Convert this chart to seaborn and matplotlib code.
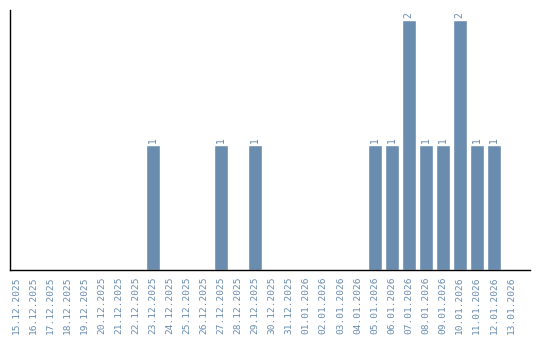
import matplotlib
matplotlib.use("Agg")
import matplotlib.pyplot as plt
import seaborn as sns
import pandas as pd

dates = ["15.12.2025", "16.12.2025", "17.12.2025", "18.12.2025", "19.12.2025",
         "20.12.2025", "21.12.2025", "22.12.2025", "23.12.2025", "24.12.2025",
         "25.12.2025", "26.12.2025", "27.12.2025", "28.12.2025", "29.12.2025",
         "30.12.2025", "31.12.2025", "01.01.2026", "02.01.2026", "03.01.2026",
         "04.01.2026", "05.01.2026", "06.01.2026", "07.01.2026", "08.01.2026",
         "09.01.2026", "10.01.2026", "11.01.2026", "12.01.2026", "13.01.2026"]
counts = [0, 0, 0, 0, 0, 0, 0, 0, 1, 0, 0, 0, 1, 0, 1,
          0, 0, 0, 0, 0, 0, 1, 1, 2, 1, 1, 2, 1, 1, 0]

sns.set_style("white")
plt.rcParams['font.family'] = ['DejaVu Sans Mono', 'DejaVu Sans']

color = "#6a8caf"
df = pd.DataFrame({"date": dates, "count": counts})

fig = plt.figure(figsize=(5.4, 3.4), dpi=100)
ax = fig.add_axes([10/540, 70/340, 520/540, 260/340])
sns.barplot(data=df, x="date", y="count", color=color, saturation=1, width=0.82, ax=ax)

ax.set_ylim(0, 2.08)
ax.set_xlim(-0.38, 30.12)
ax.set_xlabel("")
ax.set_ylabel("")
ax.set_yticks([])
ax.tick_params(axis="x", length=0, pad=5, labelsize=6.8, labelcolor=color, rotation=90)
for lbl in ax.get_xticklabels():
    lbl.set_verticalalignment("top")

for i, v in enumerate(counts):
    if v > 0:
        ax.text(i, v + 0.015, str(v), rotation=90, ha="center", va="bottom",
                fontsize=7, color=color)

for s in ["top", "right"]:
    ax.spines[s].set_visible(False)
for s in ["left", "bottom"]:
    ax.spines[s].set_color("black")
    ax.spines[s].set_linewidth(1)

fig.savefig("out.png", dpi=100)
